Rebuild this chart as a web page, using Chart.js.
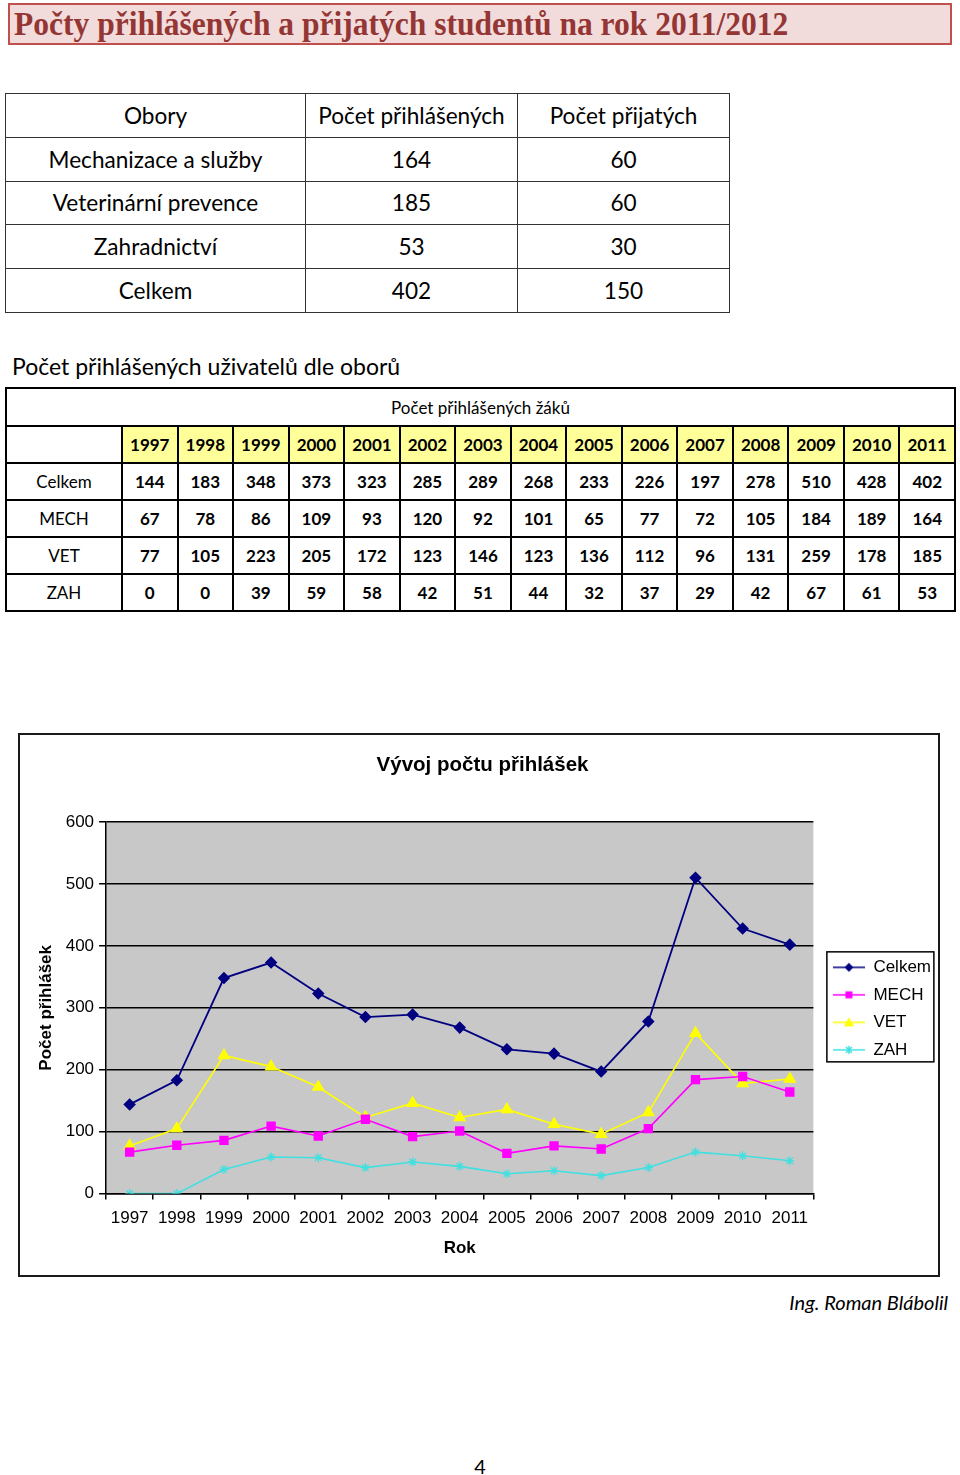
<!DOCTYPE html>
<html lang="cs">
<head>
<meta charset="utf-8">
<title>Počty přihlášených a přijatých studentů</title>
<script src="https://cdn.jsdelivr.net/npm/chart.js@4.4.1/dist/chart.umd.min.js"></script>
<style>
  body { margin: 0; width: 960px; height: 1475px; position: relative; background: #fff; color: #000;
         font-family: Lato, "Open Sans", sans-serif; }
  .titulek { position: absolute; left: 8px; top: 3px; width: 944px; height: 42px; box-sizing: border-box;
             border: 2px solid #c0504d; background: #f2dbdb; color: #943634;
             font-family: "Liberation Serif", serif; font-weight: bold; font-size: 33px;
             line-height: 38px; padding-left: 4px; white-space: nowrap; overflow: hidden; }
  .titulek span { display: inline-block; transform: scaleX(0.955); transform-origin: left center; }
  table { position: absolute; border-collapse: collapse; table-layout: fixed; }
  td { padding: 0; text-align: center; }
  #obory { left: 5px; top: 93px; width: 724px; }
  #obory td { border: 1.5px solid #333; height: 42.8px; font-size: 22.6px; }
  .nadpis { position: absolute; left: 12px; top: 352px; font-size: 23px; line-height: 28px; }
  #vyvoj { left: 5px; top: 387px; width: 951px; }
  #vyvoj td { border: 2px solid #000; height: 35px; font-size: 17px; }
  #vyvoj tr.hlava td { height: 36px; }
  #vyvoj td.rok { background: #ffff99; font-weight: bold; font-size: 17px; }
  #vyvoj td.cislo { font-weight: bold; font-size: 17px; }
  .ramec { position: absolute; left: 18px; top: 733px; width: 922px; height: 544px; box-sizing: border-box;
           border: 2px solid #1a1a1a; }
  #graf { position: absolute; left: 20px; top: 735px; }
  .autor { position: absolute; right: 12px; top: 1289px; font-style: italic; font-size: 20px; line-height: 26px; }
  .strana { position: absolute; left: 0; width: 960px; top: 1453px; text-align: center; font-size: 20px; line-height: 26px; }
</style>
</head>
<body>
<div class="titulek"><span>Počty přihlášených a přijatých studentů na rok 2011/2012</span></div>

<table id="obory"></table>

<div class="nadpis">Počet přihlášených uživatelů dle oborů</div>

<table id="vyvoj"></table>

<div class="ramec"></div>
<canvas id="graf" width="921" height="540"></canvas>

<div class="autor">Ing. Roman Blábolil</div>
<div class="strana">4</div>

<script>
// horní tabulka
const obory = ['Mechanizace a služby', 'Veterinární prevence', 'Zahradnictví', 'Celkem'];
const prihlaseni = [164, 185, 53, 402];
const prijati = [60, 60, 30, 150];

// vývoj přihlášek 1997 - 2011
const roky = ['1997', '1998', '1999', '2000', '2001', '2002', '2003', '2004', '2005', '2006', '2007', '2008', '2009', '2010', '2011'];
const celkem = [144, 183, 348, 373, 323, 285, 289, 268, 233, 226, 197, 278, 510, 428, 402];
const mech = [67, 78, 86, 109, 93, 120, 92, 101, 65, 77, 72, 105, 184, 189, 164];
const vet = [77, 105, 223, 205, 172, 123, 146, 123, 136, 112, 96, 131, 259, 178, 185];
const zah = [0, 0, 39, 59, 58, 42, 51, 44, 32, 37, 29, 42, 67, 61, 53];

const nazvySerii = ['Celkem', 'MECH', 'VET', 'ZAH'];
const osaY = { min: 0, max: 600, krok: 100 };

// tabulka oborů
let html = '<colgroup><col style="width:300px"><col style="width:212px"><col style="width:212px"></colgroup>';
html += '<tr><td>Obory</td><td>Počet přihlášených</td><td>Počet přijatých</td></tr>';
obory.forEach((obor, i) => {
    html += `<tr><td>${obor}</td><td>${prihlaseni[i]}</td><td>${prijati[i]}</td></tr>`;
});
document.getElementById('obory').innerHTML = html;

// tabulka po letech
const radky = [celkem, mech, vet, zah];
html = '<colgroup><col style="width:116px">' + roky.map(() => '<col>').join('') + '</colgroup>';
html += `<tr class="hlava"><td colspan="${roky.length + 1}">Počet přihlášených žáků</td></tr>`;
html += '<tr><td></td>' + roky.map(r => `<td class="rok">${r}</td>`).join('') + '</tr>';
radky.forEach((radek, i) => {
    html += `<tr><td>${nazvySerii[i]}</td>` + radek.map(v => `<td class="cislo">${v}</td>`).join('') + '</tr>';
});
document.getElementById('vyvoj').innerHTML = html;

const barvy = ['#000080', '#ff00ff', '#ffff00', '#40e0e0'];

// malé obrázky do legendy: čára + značka
function obrazekLegendy(barva, znacka) {
    const c = document.createElement('canvas');
    c.width = 41; c.height = 14;
    const g = c.getContext('2d');
    g.strokeStyle = barva; g.fillStyle = barva; g.lineWidth = 1.5;
    g.beginPath(); g.moveTo(9, 7); g.lineTo(41, 7); g.stroke();
    const x = 25, y = 7;
    g.beginPath();
    if (znacka === 'kosoctverec') {
        g.moveTo(x, y - 4.5); g.lineTo(x + 4.5, y); g.lineTo(x, y + 4.5); g.lineTo(x - 4.5, y); g.closePath(); g.fill();
    } else if (znacka === 'ctverec') {
        g.fillRect(x - 3.5, y - 3.5, 7, 7);
    } else if (znacka === 'trojuhelnik') {
        g.moveTo(x, y - 5); g.lineTo(x + 5, y + 4); g.lineTo(x - 5, y + 4); g.closePath(); g.fill();
    } else {
        g.moveTo(x - 3, y - 3); g.lineTo(x + 3, y + 3);
        g.moveTo(x + 3, y - 3); g.lineTo(x - 3, y + 3);
        g.moveTo(x, y - 4); g.lineTo(x, y + 4);
        g.stroke();
    }
    return c;
}

const obrazky = [
    obrazekLegendy(barvy[0], 'kosoctverec'),
    obrazekLegendy(barvy[1], 'ctverec'),
    obrazekLegendy(barvy[2], 'trojuhelnik'),
    obrazekLegendy(barvy[3], 'hvezda')
];

// šedé pozadí grafu a rámeček legendy
const pozadi = {
    id: 'pozadi',
    beforeDraw(chart) {
        const { ctx, chartArea: a } = chart;
        ctx.save();
        ctx.fillStyle = '#c8c8c8';
        ctx.fillRect(a.left, a.top, a.right - a.left, a.bottom - a.top);
        ctx.restore();
    },
    afterDraw(chart) {
        const hb = chart.legend.legendHitBoxes;
        if (!hb || !hb.length) return;
        const ctx = chart.ctx;
        ctx.save();
        ctx.strokeStyle = '#000';
        ctx.lineWidth = 1.5;
        ctx.strokeRect(hb[0].left + 3, hb[0].top - 7, 107, 110);
        ctx.restore();
    }
};

const pismo = 'Liberation Sans, Arial, sans-serif';

new Chart(document.getElementById('graf').getContext('2d'), {
    type: 'line',
    data: {
        labels: roky,
        datasets: [
            { label: 'Celkem', data: celkem, borderColor: barvy[0], backgroundColor: barvy[0], borderWidth: 1.8,
              pointStyle: 'rectRot', pointRadius: 5 },
            { label: 'MECH', data: mech, borderColor: barvy[1], backgroundColor: barvy[1], borderWidth: 1.6,
              pointStyle: 'rect', pointRadius: 5.5 },
            { label: 'VET', data: vet, borderColor: barvy[2], backgroundColor: barvy[2], borderWidth: 1.6,
              pointStyle: 'triangle', pointRadius: 6 },
            { label: 'ZAH', data: zah, borderColor: barvy[3], backgroundColor: barvy[3], borderWidth: 1.6,
              pointStyle: 'star', pointRadius: 4.5, pointBorderWidth: 1.3 }
        ]
    },
    options: {
        responsive: false,
        animation: false,
        devicePixelRatio: 1,
        layout: { padding: { left: 4, right: 0, top: 0, bottom: 8.8 } },
        elements: { line: { tension: 0 } },
        plugins: {
            title: {
                display: true,
                text: 'Vývoj počtu přihlášek',
                color: '#000',
                font: { family: pismo, size: 20.5, weight: 'bold' },
                padding: { top: 17.7, bottom: 44.7 }
            },
            legend: {
                position: 'right',
                // prázdný nadpis legendy jen posune položky níž
                title: { display: true, text: '', font: { size: 10 }, padding: { top: 2, bottom: 2 } },
                labels: {
                    usePointStyle: true,
                    pointStyleWidth: 41,
                    padding: 10.5,
                    color: '#000',
                    font: { family: pismo, size: 17 },
                    generateLabels(chart) {
                        return chart.data.datasets.map((ds, i) => ({
                            text: ds.label,
                            pointStyle: obrazky[i],
                            datasetIndex: i,
                            fontColor: '#000',
                            fillStyle: 'transparent',
                            strokeStyle: 'transparent',
                            lineWidth: 0,
                            hidden: false
                        }));
                    }
                }
            },
            tooltip: { enabled: false }
        },
        scales: {
            x: {
                offset: true,
                grid: { display: true, offset: true, drawOnChartArea: false, drawTicks: true, tickLength: 6,
                        color: '#000', lineWidth: 1.5 },
                border: { color: '#000', width: 1.5 },
                ticks: { color: '#000', padding: 8.4, maxRotation: 0, autoSkip: false,
                         font: { family: pismo, size: 17 } },
                title: { display: true, text: 'Rok', color: '#000', padding: { top: 1, bottom: 8 },
                         font: { family: pismo, size: 17, weight: 'bold' } }
            },
            y: {
                min: osaY.min,
                max: osaY.max,
                grid: { color: '#000', lineWidth: 1.5, tickLength: 7 },
                border: { color: '#000', width: 1.5 },
                ticks: { stepSize: osaY.krok, color: '#000', padding: 5,
                         font: { family: pismo, size: 17 } },
                title: { display: true, text: 'Počet přihlášek', color: '#000', padding: { top: 12, bottom: 4.3 },
                         font: { family: pismo, size: 17, weight: 'bold' } }
            }
        }
    },
    plugins: [pozadi]
});
</script>
</body>
</html>
